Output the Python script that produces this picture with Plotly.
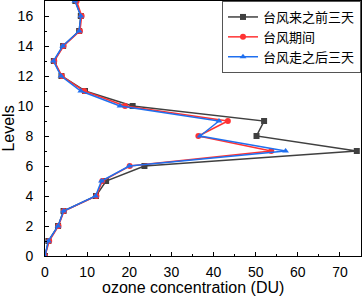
import plotly.graph_objects as go

levels = list(range(18))
before = [0, 0.8, 3.1, 4.4, 12.1, 14.5, 23.6, 74.0, 50.2, 52.0, 20.8, 9.5, 3.9, 2.1, 4.3, 8.1, 8.5, 7.2]
during = [0, 1.0, 3.2, 4.5, 12.2, 13.6, 20.1, 53.7, 36.4, 43.4, 19.0, 9.3, 4.0, 2.2, 4.4, 8.3, 8.7, 7.5]
after = [0, 0.8, 3.1, 4.4, 12.0, 13.4, 20.0, 57.1, 36.8, 41.3, 17.8, 8.5, 3.8, 2.0, 4.2, 8.1, 8.5, 7.1]
names = ["台风来之前三天", "台风期间", "台风走之后三天"]

colors = ["#404040", "#ff3333", "#1f6fef"]
symbols = ["square", "circle", "triangle-up"]

fig = go.Figure()
for vals, name, c, s in zip([before, during, after], names, colors, symbols):
    fig.add_trace(go.Scatter(
        x=vals, y=levels, mode="lines+markers", name=name,
        line=dict(color=c, width=1.5),
        marker=dict(symbol=s, size=6, color=c),
    ))

axis_common = dict(
    showline=True, linecolor="black", linewidth=1, mirror=True,
    ticks="inside", ticklen=4, tickcolor="black", tickwidth=1,
    showgrid=False, zeroline=False,
    tickfont=dict(family="Liberation Sans, Arial", size=14, color="black"),
)

fig.update_xaxes(range=[0, 75], dtick=10, tick0=0,
                 minor=dict(ticks="inside", ticklen=2, dtick=5, tickcolor="black"),
                 ticklabelstandoff=3, **axis_common)
fig.update_yaxes(range=[0, 17], dtick=2, tick0=0,
                 minor=dict(ticks="inside", ticklen=2, dtick=1, tickcolor="black"),
                 ticklabelstandoff=8,
                 title=dict(text="Levels", font=dict(family="Liberation Sans, Arial", size=16, color="black"), standoff=4),
                 **axis_common)

fig.add_annotation(text="ozone concentration (DU)", xref="paper", yref="paper",
                   x=0.468, y=-0.123, xanchor="center", yanchor="middle", showarrow=False,
                   font=dict(family="Liberation Sans, Arial", size=16, color="black"))

fig.update_layout(
    width=363, height=297,
    margin=dict(l=45, r=2, t=1, b=41),
    plot_bgcolor="white", paper_bgcolor="white",
    legend=dict(x=1, y=1, xanchor="right", yanchor="top",
                bgcolor="white", bordercolor="#555555", borderwidth=1,
                font=dict(family="Liberation Sans, Noto Sans CJK SC", size=13, color="black"),
                tracegroupgap=0, itemwidth=30),
    showlegend=True,
)

fig.write_html("out.html", config={"displayModeBar": False},
               post_script="document.body.style.margin='0';document.body.style.overflow='hidden';")
